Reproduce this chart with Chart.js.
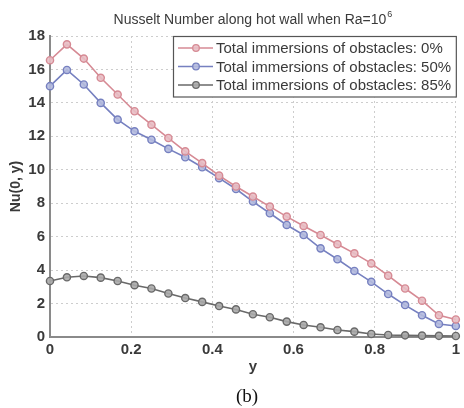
<!DOCTYPE html>
<html>
<head>
<meta charset="utf-8">
<script src="https://cdn.jsdelivr.net/npm/chart.js@4.4.1/dist/chart.umd.min.js"></script>
<style>
  html, body { margin: 0; padding: 0; background: #ffffff; }
  #wrap { width: 464px; height: 408px; }
</style>
</head>
<body>
<div id="wrap"><canvas id="c" width="464" height="408"></canvas></div>
<script>
// Position along the hot wall
const yPositions = [0, 0.0417, 0.0833, 0.125, 0.1667, 0.2083, 0.25, 0.2917, 0.3333, 0.375, 0.4167, 0.4583, 0.5,
  0.5417, 0.5833, 0.625, 0.6667, 0.7083, 0.75, 0.7917, 0.8333, 0.875, 0.9167, 0.9583, 1];

// Local Nusselt number for each immersion level
const nu0 = [16.55, 17.5, 16.65, 15.5, 14.5, 13.5, 12.7, 11.9, 11.1, 10.4, 9.65, 9.0, 8.4,
  7.8, 7.2, 6.64, 6.1, 5.55, 5.0, 4.4, 3.67, 2.9, 2.17, 1.3, 1.05];
const nu50 = [15.0, 15.97, 15.1, 14.0, 13.0, 12.3, 11.8, 11.25, 10.75, 10.15, 9.5, 8.85, 8.1,
  7.4, 6.7, 6.1, 5.3, 4.65, 3.95, 3.3, 2.57, 1.91, 1.3, 0.78, 0.66];
const nu85 = [3.35, 3.57, 3.65, 3.55, 3.35, 3.1, 2.9, 2.6, 2.33, 2.1, 1.85, 1.65, 1.36,
  1.18, 0.92, 0.72, 0.58, 0.42, 0.32, 0.18, 0.12, 0.1, 0.08, 0.07, 0.06];

const seriesLabels = [
  'Total immersions of obstacles: 0%',
  'Total immersions of obstacles: 50%',
  'Total immersions of obstacles: 85%'
];
const xTickLabels = ['0', '0.2', '0.4', '0.6', '0.8', '1'];
const yTickLabels = ['0', '2', '4', '6', '8', '10', '12', '14', '16', '18'];

const titleText = 'Nusselt Number along hot wall when Ra=10';
const titleSup = '6';
const captionText = '(b)';

const FONT = "'Liberation Sans', Arial, sans-serif";
const TEXT = '#3a3a3a';

function pts(vals) { return vals.map((v, i) => ({ x: yPositions[i], y: v })); }

function style(line, fill) {
  return {
    borderColor: line, backgroundColor: fill, borderWidth: 1.6,
    pointRadius: 3.6, pointBorderWidth: 1.4, pointBorderColor: line, pointBackgroundColor: fill,
    pointHoverRadius: 3.6, tension: 0, clip: false
  };
}

const datasets = [
  Object.assign({ label: seriesLabels[0], data: pts(nu0) }, style('rgb(214,138,148)', 'rgba(232,190,196,0.9)')),
  Object.assign({ label: seriesLabels[1], data: pts(nu50) }, style('rgb(118,128,192)', 'rgba(180,186,222,0.9)')),
  Object.assign({ label: seriesLabels[2], data: pts(nu85) }, style('rgb(105,105,105)', 'rgba(170,170,170,0.9)'))
];

// Title with superscript exponent and the panel caption underneath
const annotations = {
  id: 'annotations',
  afterDraw(chart) {
    const ctx = chart.ctx;
    const a = chart.chartArea;
    ctx.save();
    ctx.fillStyle = TEXT;
    ctx.textBaseline = 'alphabetic';
    ctx.font = '14px ' + FONT;
    const w1 = ctx.measureText(titleText).width;
    ctx.font = '9px ' + FONT;
    const w2 = ctx.measureText(titleSup).width;
    const cx = (a.left + a.right) / 2;
    const x0 = cx - (w1 + w2 + 1) / 2;
    ctx.textAlign = 'left';
    ctx.font = '14px ' + FONT;
    ctx.fillText(titleText, x0, 24);
    ctx.font = '9px ' + FONT;
    ctx.fillText(titleSup, x0 + w1 + 1, 17);

    ctx.font = "19px 'Liberation Serif', 'Times New Roman', serif";
    ctx.fillStyle = '#111';
    ctx.textAlign = 'center';
    ctx.fillText(captionText, 247, 402);
    ctx.restore();
  }
};

// Boxed legend placed in the upper right of the plot area
const boxLegend = {
  id: 'boxLegend',
  afterDatasetsDraw(chart) {
    const ctx = chart.ctx;
    const a = chart.chartArea;
    const left = 173, top = 36, right = a.right + 1, rowH = 18.5;
    const bottom = top + rowH * chart.data.datasets.length + 6;
    ctx.save();
    ctx.fillStyle = '#ffffff';
    ctx.fillRect(left, top, right - left, bottom - top);
    ctx.strokeStyle = '#555';
    ctx.lineWidth = 1.2;
    ctx.strokeRect(left + 0.5, top + 0.5, right - left - 1, bottom - top - 1);
    ctx.font = '15px ' + FONT;
    ctx.textBaseline = 'middle';
    ctx.textAlign = 'left';
    chart.data.datasets.forEach((ds, i) => {
      const y = top + 12 + i * rowH;
      ctx.strokeStyle = ds.borderColor;
      ctx.lineWidth = 1.6;
      ctx.beginPath();
      ctx.moveTo(178, y);
      ctx.lineTo(213, y);
      ctx.stroke();
      ctx.beginPath();
      ctx.arc(196, y, 3.3, 0, Math.PI * 2);
      ctx.fillStyle = ds.pointBackgroundColor;
      ctx.fill();
      ctx.lineWidth = 1.3;
      ctx.stroke();
      ctx.fillStyle = TEXT;
      ctx.fillText(ds.label, 216, y + 1);
    });
    ctx.restore();
  }
};

new Chart(document.getElementById('c'), {
  type: 'line',
  data: { datasets },
  options: {
    responsive: false,
    animation: false,
    events: [],
    layout: { padding: { top: 36, right: 3, left: 0, bottom: 0 } },
    plugins: { legend: { display: false }, title: { display: false }, tooltip: { enabled: false } },
    scales: {
      x: {
        type: 'linear', min: 0, max: 1,
        afterFit(s) { s.height = 71; },
        ticks: {
          stepSize: 0.2, padding: 4, color: TEXT,
          font: { family: FONT, size: 15, weight: 'bold' },
          maxRotation: 0,
          callback(v) { const i = Math.round(v * 5); return xTickLabels[i]; }
        },
        grid: { color: '#cdcdcd', lineWidth: 1, drawTicks: false },
        border: { display: true, color: '#8a8a8a', width: 2, dash: [2, 3] },
        title: { display: true, text: 'y', color: TEXT, font: { family: FONT, size: 15, weight: 'bold' }, padding: { top: 0, bottom: 32 } }
      },
      y: {
        type: 'linear', min: 0, max: 18,
        afterFit(s) { s.width = 50; },
        ticks: {
          stepSize: 2, padding: 5, color: TEXT,
          font: { family: FONT, size: 15, weight: 'bold' },
          callback(v) { return yTickLabels[Math.round(v / 2)]; }
        },
        grid: { color: '#cdcdcd', lineWidth: 1, drawTicks: false },
        border: { display: true, color: '#8a8a8a', width: 2, dash: [2, 3] },
        title: { display: true, text: 'Nu(0, y)', color: TEXT, font: { family: FONT, size: 14, weight: 'bold' }, padding: { top: 8, bottom: 0 } }
      }
    }
  },
  plugins: [annotations, boxLegend]
});
</script>
</body>
</html>
